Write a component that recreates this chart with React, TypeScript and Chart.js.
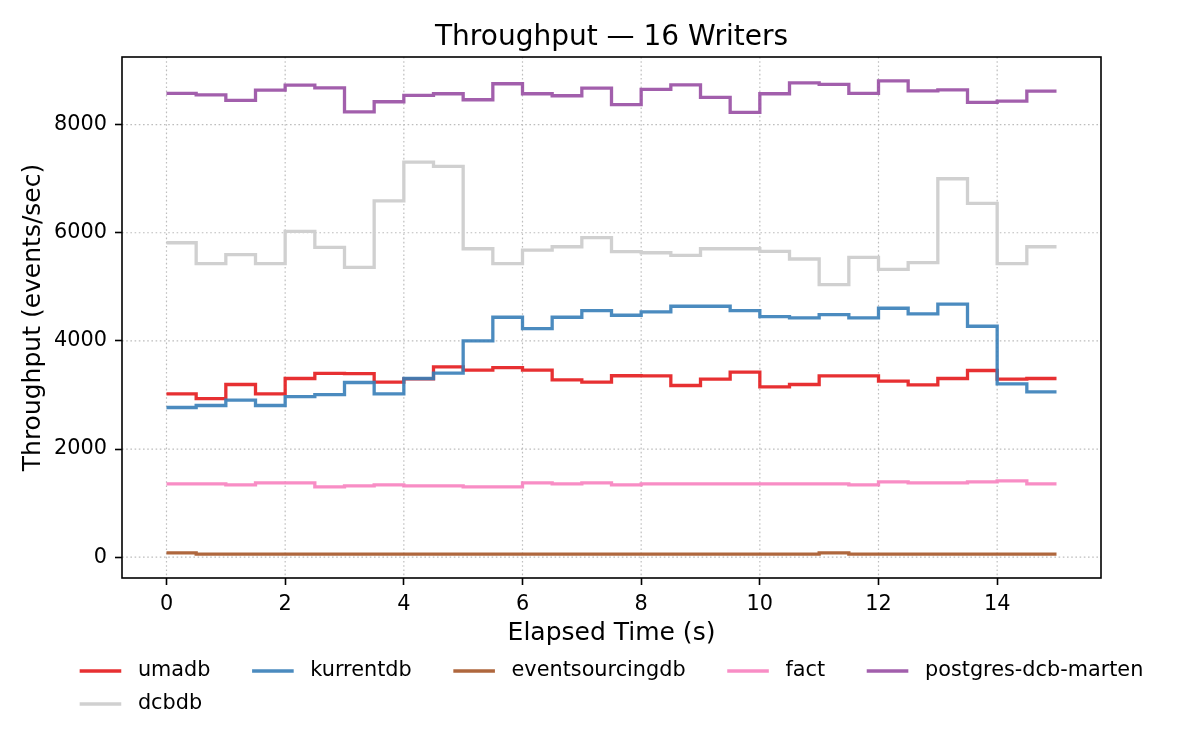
import { useEffect, useRef } from 'react';
import { Chart, ChartConfiguration, Plugin, registerables } from 'chart.js';

Chart.register(...registerables);

// window start times (s), last entry closes the final window
const times = [0, 0.5, 1, 1.5, 2, 2.5, 3, 3.5, 4, 4.5, 5, 5.5, 6, 6.5, 7, 7.5, 8, 8.5, 9, 9.5, 10, 10.5, 11, 11.5, 12, 12.5, 13, 13.5, 14, 14.5, 15];

// throughput per 0.5 s window (events/sec)
const umadb = [3021, 2934, 3193, 3021, 3304, 3400, 3395, 3237, 3298, 3520, 3458, 3507, 3458, 3279, 3237, 3355, 3353, 3175, 3292, 3421, 3150, 3193, 3353, 3353, 3255, 3187, 3304, 3452, 3292, 3304];
const kurrentdb = [2768, 2805, 2904, 2805, 2971, 3008, 3230, 3021, 3304, 3403, 4000, 4437, 4228, 4437, 4560, 4474, 4536, 4641, 4641, 4560, 4449, 4425, 4486, 4425, 4604, 4499, 4678, 4271, 3205, 3058];
const eventsourcingdb = [80, 55, 55, 55, 55, 55, 55, 55, 55, 55, 55, 55, 55, 55, 55, 55, 55, 55, 55, 55, 55, 55, 80, 55, 55, 55, 55, 55, 55, 55];
const fact = [1355, 1355, 1336, 1373, 1373, 1299, 1318, 1336, 1318, 1318, 1299, 1299, 1373, 1355, 1373, 1338, 1355, 1355, 1355, 1355, 1355, 1355, 1355, 1336, 1392, 1373, 1373, 1392, 1410, 1355];
const postgresDcbMarten = [8577, 8551, 8447, 8637, 8730, 8680, 8237, 8422, 8540, 8570, 8459, 8755, 8570, 8533, 8675, 8370, 8650, 8736, 8502, 8225, 8570, 8773, 8743, 8577, 8810, 8625, 8643, 8410, 8434, 8619];
const dcbdb = [5815, 5427, 5594, 5427, 6025, 5730, 5360, 6591, 7306, 7227, 5704, 5427, 5680, 5741, 5910, 5652, 5630, 5581, 5704, 5704, 5655, 5514, 5039, 5545, 5323, 5446, 6998, 6543, 5427, 5741];

const seriesNames = ['umadb', 'kurrentdb', 'eventsourcingdb', 'fact', 'postgres-dcb-marten', 'dcbdb'];
const seriesValues = [umadb, kurrentdb, eventsourcingdb, fact, postgresDcbMarten, dcbdb];
const seriesColors = [
  'rgba(228, 26, 28, 0.9)',
  'rgba(55, 126, 184, 0.9)',
  'rgba(166, 86, 40, 0.9)',
  'rgba(247, 129, 191, 0.9)',
  'rgba(152, 78, 163, 0.9)',
  'rgba(208, 208, 208, 1)',
];

const xTicks = [0, 2, 4, 6, 8, 10, 12, 14];
const yTicks = [0, 2000, 4000, 6000, 8000];

const FONT = "'DejaVu Sans', sans-serif";
const TICK_SIZE = 20.8;
const LINE_W = 3.3;

// matplotlib-like decorations: dotted grid, box frame, title, axis labels, legend
const decor: Plugin<'line'> = {
  id: 'decor',
  beforeDatasetsDraw(chart) {
    const { ctx, chartArea: a, scales } = chart;
    ctx.save();
    ctx.strokeStyle = '#bdbdbd';
    ctx.lineWidth = 1.2;
    ctx.setLineDash([1.6, 2.6]);
    xTicks.forEach((v) => {
      const x = scales.x.getPixelForValue(v);
      ctx.beginPath();
      ctx.moveTo(x, a.top);
      ctx.lineTo(x, a.bottom);
      ctx.stroke();
    });
    yTicks.forEach((v) => {
      const y = scales.y.getPixelForValue(v);
      ctx.beginPath();
      ctx.moveTo(a.left, y);
      ctx.lineTo(a.right, y);
      ctx.stroke();
    });
    ctx.restore();
  },
  afterDatasetsDraw(chart) {
    const { ctx, chartArea: a } = chart;
    ctx.save();
    ctx.strokeStyle = '#000';
    ctx.lineWidth = 1.6;
    ctx.strokeRect(a.left, a.top, a.right - a.left, a.bottom - a.top);
    ctx.restore();
  },
  afterDraw(chart) {
    const { ctx, chartArea: a } = chart;
    const cx = (a.left + a.right) / 2;
    ctx.save();
    ctx.fillStyle = '#000';

    // title
    ctx.font = `28px ${FONT}`;
    ctx.textAlign = 'center';
    ctx.textBaseline = 'alphabetic';
    ctx.fillText('Throughput — 16 Writers', cx, a.top - 12.5);

    // axis labels
    ctx.font = `25px ${FONT}`;
    ctx.textBaseline = 'middle';
    ctx.fillText('Elapsed Time (s)', cx, a.bottom + 55);
    ctx.save();
    ctx.translate(33, (a.top + a.bottom) / 2);
    ctx.rotate(-Math.PI / 2);
    ctx.fillText('Throughput (events/sec)', 0, 0);
    ctx.restore();

    // legend, 5 columns under the axes
    const fs = TICK_SIZE;
    ctx.font = `${fs}px ${FONT}`;
    const handle = 2 * fs;
    const pad = 0.8 * fs;
    const gap = 2 * fs;
    const cols = 5;
    const items = chart.data.datasets.map((d, i) => ({ label: String(d.label), color: seriesColors[i] }));
    const widths = new Array(cols).fill(0);
    items.forEach((it, i) => {
      widths[i % cols] = Math.max(widths[i % cols], ctx.measureText(it.label).width);
    });
    const total = widths.reduce((s, w) => s + handle + pad + w, 0) + gap * (cols - 1);
    const colX: number[] = [];
    let x = cx - total / 2;
    widths.forEach((w) => {
      colX.push(x);
      x += handle + pad + w + gap;
    });
    ctx.textAlign = 'left';
    items.forEach((it, i) => {
      const lx = colX[i % cols];
      const ly = a.bottom + 93 + Math.floor(i / cols) * 33;
      ctx.strokeStyle = it.color;
      ctx.lineWidth = LINE_W;
      ctx.beginPath();
      ctx.moveTo(lx, ly);
      ctx.lineTo(lx + handle, ly);
      ctx.stroke();
      ctx.fillText(it.label, lx + handle + pad, ly);
    });
    ctx.restore();
  },
};

export default function App() {
  const canvasRef = useRef<HTMLCanvasElement>(null);

  useEffect(() => {
    document.body.style.margin = '0';
    if (!canvasRef.current) return;

    const datasets = seriesNames.map((name, i) => ({
      label: name,
      data: times.map((t, j) => ({ x: t, y: seriesValues[i][Math.min(j, seriesValues[i].length - 1)] })),
      borderColor: seriesColors[i],
      backgroundColor: seriesColors[i],
      borderWidth: LINE_W,
      pointRadius: 0,
      stepped: 'before' as const,
      fill: false,
      order: seriesNames.length - i,
    }));

    const tickFont = { family: FONT, size: TICK_SIZE };

    const config: ChartConfiguration<'line'> = {
      type: 'line',
      data: { datasets },
      options: {
        responsive: false,
        animation: false,
        parsing: false,
        layout: { padding: { top: 57, right: 99, left: 0, bottom: 0 } },
        plugins: {
          legend: { display: false },
          title: { display: false },
          tooltip: { enabled: false },
        },
        scales: {
          x: {
            type: 'linear',
            min: -0.75,
            max: 15.75,
            afterBuildTicks: (s) => {
              s.ticks = xTicks.map((v) => ({ value: v }));
            },
            afterFit: (s) => {
              s.height = 172;
            },
            grid: { drawOnChartArea: false, tickLength: 7, tickColor: '#000', tickWidth: 1.6 },
            border: { display: false },
            ticks: {
              color: '#000',
              font: tickFont,
              padding: 7,
              autoSkip: false,
              maxRotation: 0,
              callback: (v) => String(v),
            },
          },
          y: {
            type: 'linear',
            min: -385,
            max: 9250,
            afterBuildTicks: (s) => {
              s.ticks = yTicks.map((v) => ({ value: v }));
            },
            afterFit: (s) => {
              s.width = 122;
            },
            grid: { drawOnChartArea: false, tickLength: 7, tickColor: '#000', tickWidth: 1.6 },
            border: { display: false },
            ticks: {
              color: '#000',
              font: tickFont,
              padding: 8,
              autoSkip: false,
              callback: (v) => String(v),
            },
          },
        },
      },
      plugins: [decor],
    };

    const chart = new Chart(canvasRef.current, config);
    return () => chart.destroy();
  }, []);

  return (
    <div style={{ width: 1200, height: 750, background: '#fff' }}>
      <canvas ref={canvasRef} width={1200} height={750} style={{ display: 'block' }} />
    </div>
  );
}
